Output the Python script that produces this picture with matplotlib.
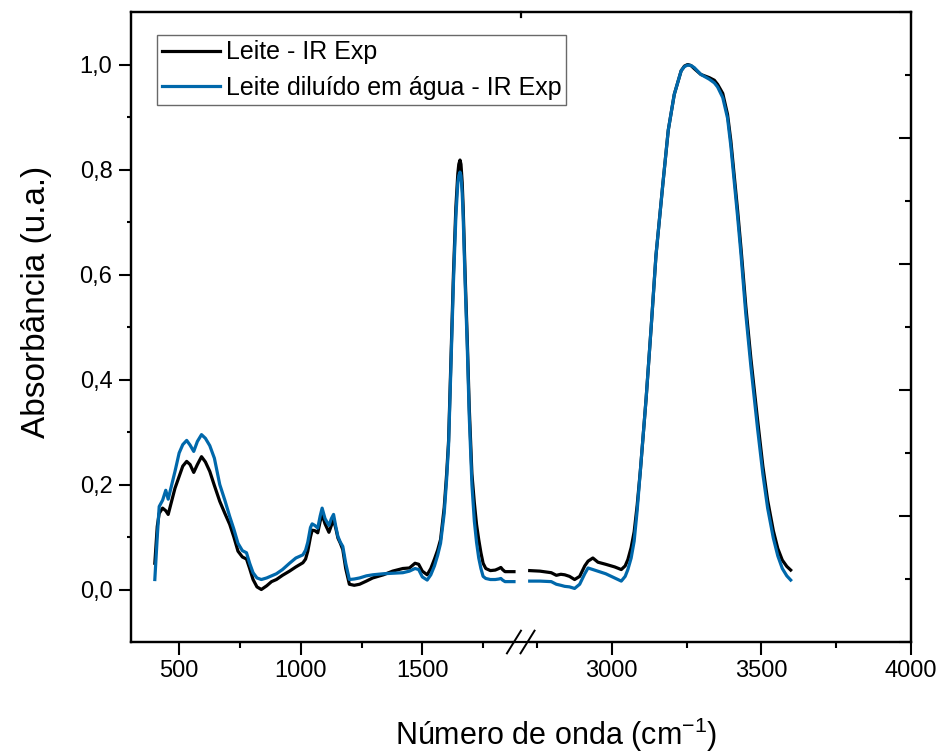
import numpy as np
import matplotlib.pyplot as plt
from matplotlib.ticker import FixedLocator, NullFormatter

plt.rcParams['font.family'] = ['Liberation Sans', 'DejaVu Sans']
plt.rcParams['mathtext.default'] = 'regular'

# ── Dados ────────────────────────────────────────────────────
# trecho 1: 400 - 1880 cm-1
x1 = [400, 410, 418, 432, 445, 455, 470, 483, 500, 515, 531, 545, 560, 575, 592,
      608, 626, 645, 667, 688, 708, 725, 742, 760, 777, 790, 804, 820, 838, 860,
      880, 900, 925, 954, 980, 1009, 1020, 1029, 1040, 1047, 1058, 1070, 1080, 1088,
      1100, 1116, 1126, 1135, 1145, 1153, 1163, 1173, 1185, 1200, 1220, 1242, 1270,
      1296, 1340, 1378, 1420, 1447, 1470, 1485, 1500, 1520, 1535, 1550, 1563, 1575,
      1590, 1600, 1608, 1620, 1628, 1638, 1646, 1650, 1655, 1659, 1664, 1668, 1676,
      1685, 1693, 1704, 1714, 1723, 1732, 1741, 1750, 1761, 1780, 1800, 1815, 1823,
      1830, 1840, 1860, 1877]
leite1 = [0.050, 0.120, 0.145, 0.155, 0.150, 0.143, 0.170, 0.193, 0.215, 0.235,
          0.244, 0.238, 0.223, 0.238, 0.253, 0.243, 0.225, 0.198, 0.168, 0.145,
          0.124, 0.100, 0.073, 0.062, 0.058, 0.040, 0.019, 0.005, 0.000, 0.007,
          0.015, 0.019, 0.027, 0.035, 0.043, 0.051, 0.058, 0.073, 0.100, 0.113,
          0.112, 0.108, 0.130, 0.143, 0.125, 0.109, 0.122, 0.133, 0.115, 0.098,
          0.088, 0.076, 0.040, 0.010, 0.008, 0.010, 0.016, 0.022, 0.028, 0.035,
          0.040, 0.041, 0.050, 0.048, 0.035, 0.028, 0.040, 0.058, 0.075, 0.095,
          0.156, 0.220, 0.283, 0.474, 0.601, 0.728, 0.792, 0.810, 0.818, 0.810,
          0.775, 0.728, 0.601, 0.474, 0.347, 0.220, 0.165, 0.124, 0.095, 0.070,
          0.050, 0.040, 0.036, 0.037, 0.040, 0.042, 0.038, 0.034, 0.034, 0.034]
diluido1 = [0.019, 0.100, 0.158, 0.170, 0.189, 0.172, 0.200, 0.225, 0.260, 0.276,
            0.284, 0.275, 0.263, 0.282, 0.295, 0.288, 0.274, 0.250, 0.200, 0.170,
            0.139, 0.115, 0.088, 0.074, 0.070, 0.050, 0.032, 0.022, 0.019, 0.022,
            0.026, 0.030, 0.038, 0.050, 0.060, 0.066, 0.075, 0.090, 0.118, 0.125,
            0.122, 0.117, 0.140, 0.155, 0.135, 0.122, 0.135, 0.143, 0.118, 0.101,
            0.090, 0.082, 0.050, 0.019, 0.020, 0.022, 0.026, 0.028, 0.030, 0.031,
            0.032, 0.035, 0.040, 0.038, 0.024, 0.018, 0.028, 0.045, 0.065, 0.088,
            0.145, 0.210, 0.275, 0.460, 0.585, 0.710, 0.775, 0.788, 0.795, 0.788,
            0.755, 0.710, 0.585, 0.460, 0.330, 0.200, 0.130, 0.090, 0.060, 0.040,
            0.025, 0.021, 0.019, 0.019, 0.020, 0.021, 0.018, 0.015, 0.015, 0.015]

# trecho 2: 2725 - 3600 cm-1
x2 = [2726, 2760, 2798, 2815, 2830, 2843, 2859, 2876, 2893, 2910, 2921, 2937, 2954,
      2980, 3010, 3032, 3045, 3054, 3065, 3075, 3085, 3096, 3115, 3132, 3148, 3171,
      3189, 3209, 3232, 3243, 3254, 3265, 3276, 3298, 3326, 3343, 3354, 3371, 3387,
      3398, 3409, 3421, 3432, 3448, 3465, 3487, 3505, 3521, 3540, 3555, 3570, 3585,
      3598]
leite2 = [0.036, 0.035, 0.032, 0.027, 0.029, 0.028, 0.025, 0.019, 0.025, 0.045,
          0.054, 0.060, 0.052, 0.048, 0.043, 0.038, 0.045, 0.057, 0.080, 0.110,
          0.160, 0.228, 0.364, 0.501, 0.637, 0.773, 0.875, 0.943, 0.988, 0.997,
          1.000, 0.998, 0.992, 0.981, 0.975, 0.970, 0.962, 0.945, 0.905, 0.855,
          0.790, 0.720, 0.650, 0.540, 0.440, 0.325, 0.235, 0.170, 0.112, 0.078,
          0.056, 0.044, 0.037]
diluido2 = [0.016, 0.016, 0.015, 0.010, 0.008, 0.006, 0.005, 0.002, 0.010, 0.030,
            0.041, 0.038, 0.035, 0.030, 0.022, 0.016, 0.025, 0.038, 0.060, 0.092,
            0.150, 0.228, 0.364, 0.501, 0.637, 0.773, 0.875, 0.943, 0.988, 0.996,
            0.999, 0.998, 0.994, 0.981, 0.972, 0.965, 0.957, 0.937, 0.898, 0.845,
            0.780, 0.708, 0.638, 0.525, 0.425, 0.308, 0.220, 0.155, 0.098, 0.064,
            0.040, 0.026, 0.018]

xticks = [500, 1000, 1500, 3000, 3500, 4000]
xticks_menores = [750, 1250, 1750, 2750, 3250, 3750]
yticks = [0.0, 0.2, 0.4, 0.6, 0.8, 1.0]
ytick_labels = ['0,0', '0,2', '0,4', '0,6', '0,8', '1,0']
yticks_menores = [0.1, 0.3, 0.5, 0.7, 0.9]

# ── Eixo x com quebra (1900 - 2700) ──────────────────────────
A, B1, B2, C = 300, 1900, 2700, 4000
g = 0.006


def fwd(x):
    x = np.asarray(x, dtype=float)
    return np.where(x < B1, (x - A) / (B1 - A),
                    np.where(x < B2, 1 + g * (x - B1) / (B2 - B1),
                             1 + g + (x - B2) / (C - B2)))


def inv(u):
    u = np.asarray(u, dtype=float)
    return np.where(u < 1, A + u * (B1 - A),
                    np.where(u < 1 + g, B1 + (u - 1) / g * (B2 - B1),
                             B2 + (u - 1 - g) * (C - B2)))


x_all = np.concatenate([x1, [np.nan], x2])
leite = np.concatenate([leite1, [np.nan], leite2])
diluido = np.concatenate([diluido1, [np.nan], diluido2])

fig = plt.figure(figsize=(9.45, 7.55), dpi=100)
ax = fig.add_axes([130.5 / 945, 1 - 642 / 755, 780.5 / 945, 630 / 755])
ax.set_xscale('function', functions=(fwd, inv))

ax.plot(x_all, leite, color='black', lw=2.3, label='Leite - IR Exp')
ax.plot(x_all, diluido, color='#0068ab', lw=2.3,
        label='Leite diluído em água - IR Exp')

ax.set_xlim(A, C)
ax.set_ylim(-0.1, 1.1)

ax.xaxis.set_major_locator(FixedLocator(xticks))
ax.xaxis.set_minor_locator(FixedLocator(xticks_menores))
ax.set_xticklabels([str(t) for t in xticks])
ax.xaxis.set_minor_formatter(NullFormatter())
ax.yaxis.set_major_locator(FixedLocator(yticks))
ax.set_yticklabels(ytick_labels)
ax.yaxis.set_minor_locator(FixedLocator(yticks_menores))

ax.tick_params(which='major', direction='out', length=9, width=1.5,
               labelsize=17, top=False, right=False, pad=4)
ax.tick_params(which='minor', direction='out', length=4.5, width=1.5,
               top=False, right=False)
ax.tick_params(axis='y', which='minor', length=3)
for s in ax.spines.values():
    s.set_linewidth(1.6)

# eixo da direita (marcas para dentro, sem rótulos)
ax2 = ax.twinx()
ax2.set_ylim(0, 1)
ax2.yaxis.set_major_locator(FixedLocator([0, 0.2, 0.4, 0.6, 0.8, 1.0]))
ax2.yaxis.set_minor_locator(FixedLocator([0.1, 0.3, 0.5, 0.7, 0.9]))
ax2.yaxis.set_major_formatter(NullFormatter())
ax2.tick_params(which='major', direction='in', length=9, width=1.5)
ax2.tick_params(which='minor', direction='in', length=4.5, width=1.5)
for s in ax2.spines.values():
    s.set_linewidth(1.6)

# marcas da quebra do eixo
cx = (1 + g / 2) / (2 + g)
for dx in (-0.0087, 0.0087):
    ax.plot([cx + dx - 0.009, cx + dx + 0.009], [-0.018, 0.018],
            transform=ax.transAxes, color='black', lw=1.4, clip_on=False, zorder=6)
ax.fill([cx - 0.008, cx + 0.009, cx + 0.009, cx - 0.008],
        [-0.004, -0.004, 0.004, 0.004], transform=ax.transAxes,
        color='white', clip_on=False, zorder=5)
ax.plot([cx, cx], [1, 0.992], transform=ax.transAxes, color='black',
        lw=1.6, clip_on=False)

ax.set_xlabel('Número de onda (cm$^{-1}$)', fontsize=22)
ax.set_ylabel('Absorbância (u.a.)', fontsize=24)
ax.xaxis.set_label_coords(0.546, -0.117)
ax.yaxis.set_label_coords(-0.1, 0.54)

leg = ax.legend(loc='upper left', bbox_to_anchor=(0.034, 0.963), fontsize=18,
                frameon=True, fancybox=False, borderaxespad=0, handlelength=2.3,
                handletextpad=0.25, borderpad=0.2, labelspacing=0.45)
leg.get_frame().set_edgecolor('#444444')
leg.get_frame().set_linewidth(1.0)

fig.savefig('out.png', dpi=100)
